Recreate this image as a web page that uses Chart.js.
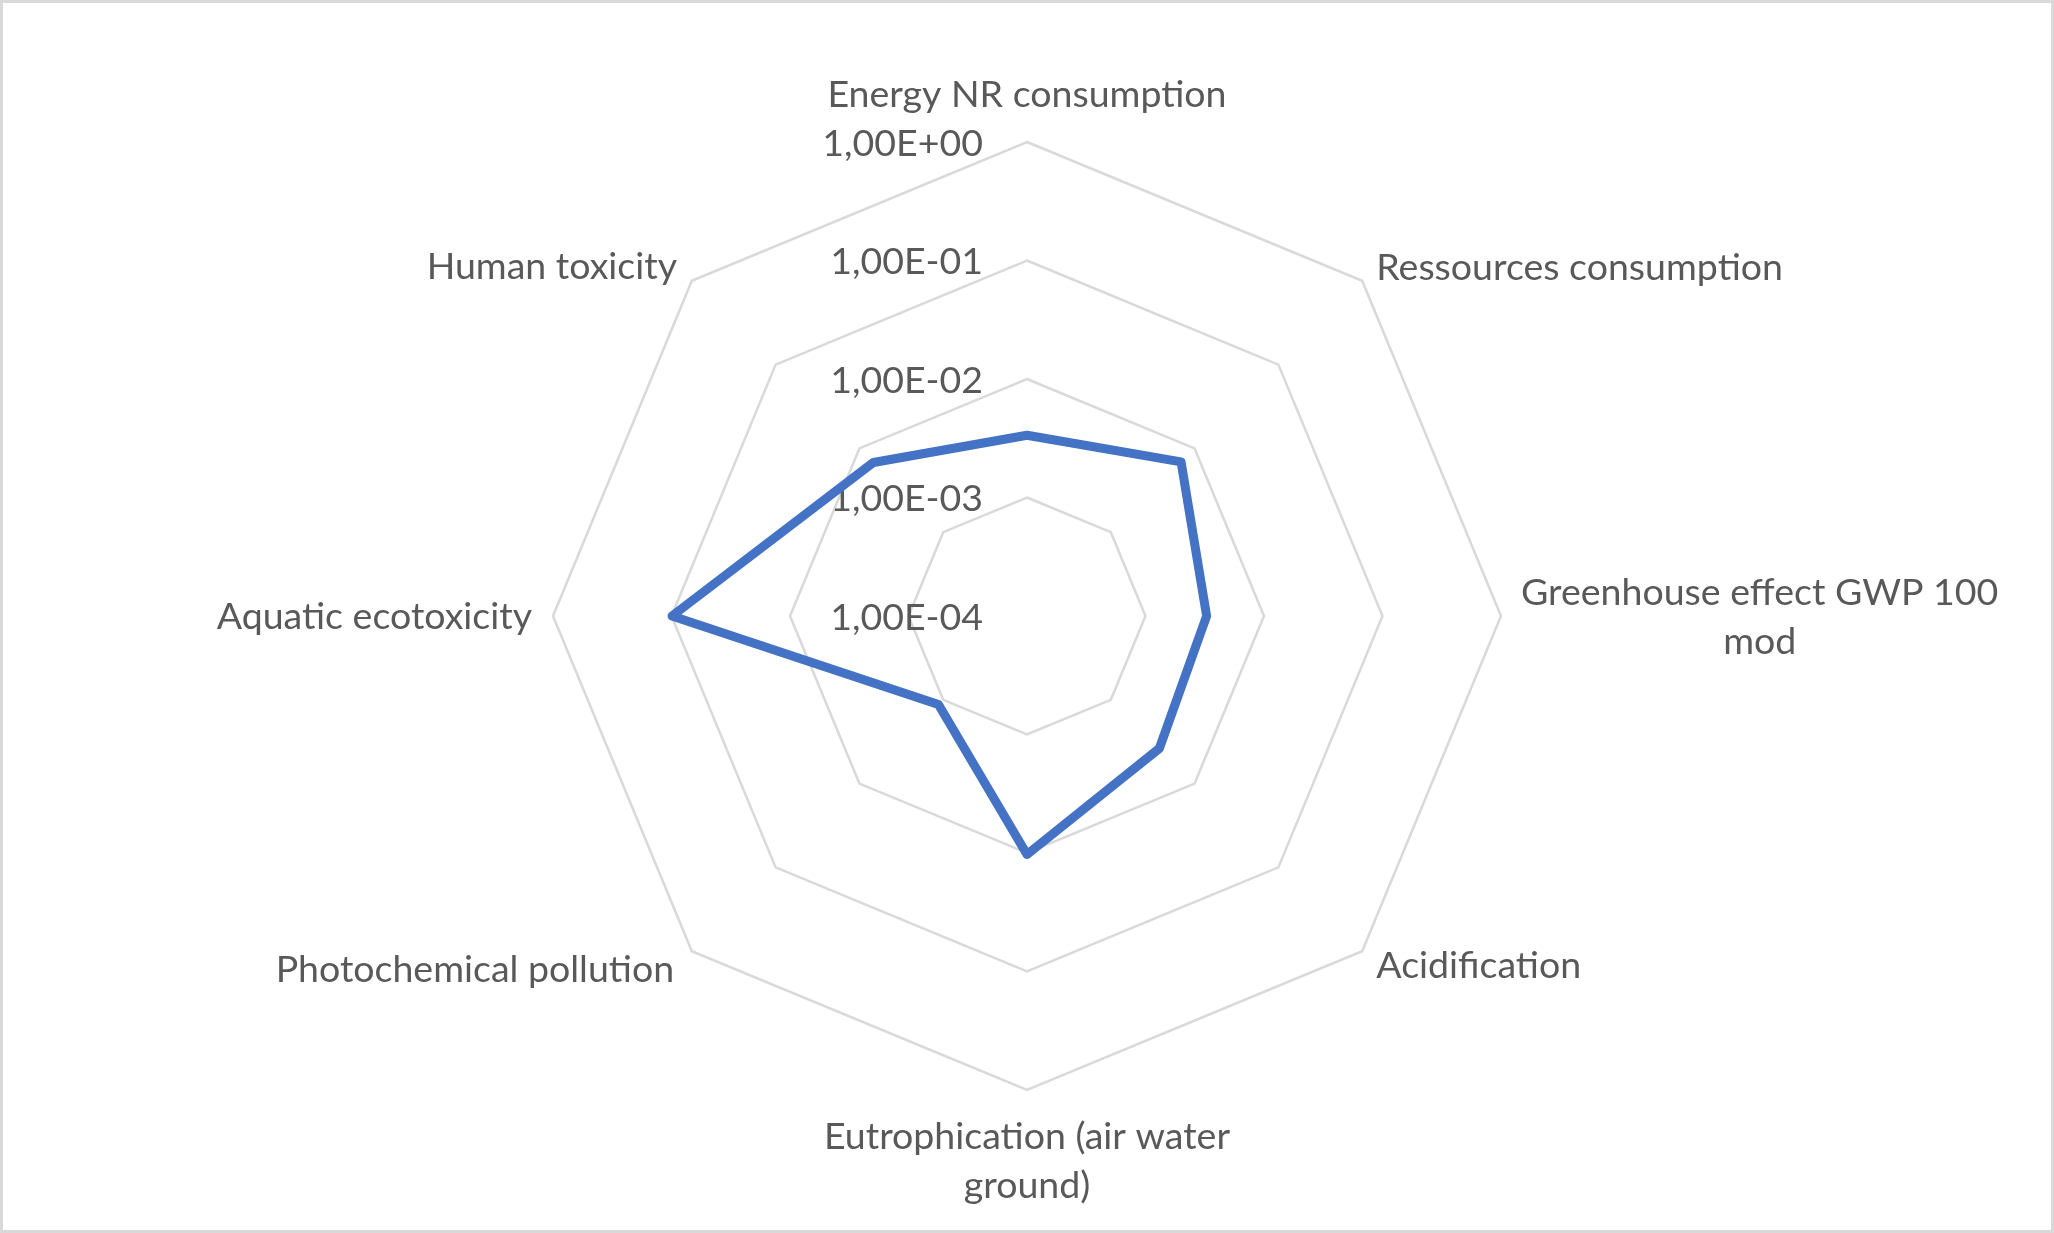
<!DOCTYPE html>
<html lang="en">
<head>
    <meta charset="UTF-8">
    <title>Impact radar</title>
    <script src="https://cdn.jsdelivr.net/npm/chart.js@4.4.0/dist/chart.umd.min.js"></script>
    <style>
        body { margin: 0; background: #fff; }
        .frame { width: 2054px; height: 1233px; box-sizing: border-box; border: 3px solid #d9d9d9; background: #fff; }
        .box { position: relative; width: 2048px; height: 1227px; }
    </style>
</head>
<body>
    <div class="frame">
        <div class="box">
            <canvas id="radar"></canvas>
        </div>
    </div>

<script>
    // categorias (arrays = label em duas linhas)
    var categorias = [
        'Energy NR consumption',
        'Ressources consumption',
        ['Greenhouse effect GWP 100', 'mod'],
        'Acidification',
        ['Eutrophication (air water', 'ground)'],
        'Photochemical pollution',
        'Aquatic ecotoxicity',
        'Human toxicity'
    ];

    var valores = [3.35e-3, 6.9e-3, 3.28e-3, 3.8e-3, 1.03e-2, 1.14e-3, 9.9e-2, 6.8e-3];

    // escala logaritmica: 1E-04 ... 1E+00
    var marcas = [1e-4, 1e-3, 1e-2, 1e-1, 1];

    var base = Math.log10(marcas[0]);
    var fonte = '37.5px Lato';
    var corTexto = '#595959';
    var alturaLinha = 49;
    var ajusteTick = 1.5;                        // Lato fica um pouco alto com 'middle'
    var ajusteLabel = 1;
    var espacos = [24, 20, 20, 20, 21, 25, 21, 21]; // distancia label -> poligono externo

    function formatarExp(v) {
        var e = Math.round(Math.log10(v));
        return '1,00E' + (e < 0 ? '-' : '+') + String(Math.abs(e)).padStart(2, '0');
    }

    // desenha os textos (eixo e categorias) antes da linha
    var textos = {
        id: 'textos',
        beforeDatasetsDraw: function (chart) {
            var s = chart.scales.r;
            var ctx = chart.ctx;
            ctx.save();
            ctx.font = fonte;
            ctx.fillStyle = corTexto;

            // valores do eixo, alinhados a direita do eixo vertical
            ctx.textAlign = 'right';
            ctx.textBaseline = 'middle';
            marcas.forEach(function (m) {
                var d = s.getDistanceFromCenterForValue(Math.log10(m) - base);
                ctx.fillText(formatarExp(m), s.xCenter - 44, s.yCenter - d + ajusteTick);
            });

            // nomes das categorias
            ctx.textAlign = 'center';
            var n = categorias.length;
            categorias.forEach(function (lab, i) {
                var linhas = Array.isArray(lab) ? lab : [lab];
                var angulo = i * 360 / n;
                var p = s.getPointPosition(i, s.drawingArea + espacos[i]);
                var w = Math.max.apply(null, linhas.map(function (l) { return ctx.measureText(l).width; }));
                var h = linhas.length * alturaLinha;
                var cx, topo;
                if (angulo === 0 || angulo === 180) cx = p.x;
                else if (angulo < 180) cx = p.x + w / 2;
                else cx = p.x - w / 2;
                if (angulo === 0) topo = p.y - h;
                else if (angulo === 180) topo = p.y;
                else topo = p.y - h / 2;
                linhas.forEach(function (l, k) {
                    ctx.fillText(l, cx, topo + alturaLinha * (k + 0.5) + ajusteLabel);
                });
            });
            ctx.restore();
        }
    };

    var radar = document.getElementById('radar').getContext('2d');

    var grafico = new Chart(radar, {
        type: 'radar',
        data: {
            labels: categorias,
            datasets: [{
                label: 'Impact',
                data: valores.map(function (v) { return Math.log10(v) - base; }),
                borderColor: '#4472c4',
                backgroundColor: 'rgba(0,0,0,0)',
                borderWidth: 9,
                borderJoinStyle: 'round',
                pointRadius: 0,
                pointHoverRadius: 0,
                fill: false,
                tension: 0
            }]
        },
        options: {
            responsive: true,
            maintainAspectRatio: false,
            animation: false,
            devicePixelRatio: 1,
            layout: { padding: { top: 139, bottom: 139, left: 0, right: 0 } },
            plugins: {
                legend: { display: false },
                tooltip: { enabled: false }
            },
            scales: {
                r: {
                    min: 0,
                    max: Math.log10(marcas[marcas.length - 1]) - base,
                    ticks: { stepSize: 1, display: false },
                    grid: { color: '#d9d9d9', lineWidth: 2.5, circular: false },
                    angleLines: { display: false },
                    pointLabels: { display: false }
                }
            }
        },
        plugins: [textos]
    });
</script>
</body>
</html>
